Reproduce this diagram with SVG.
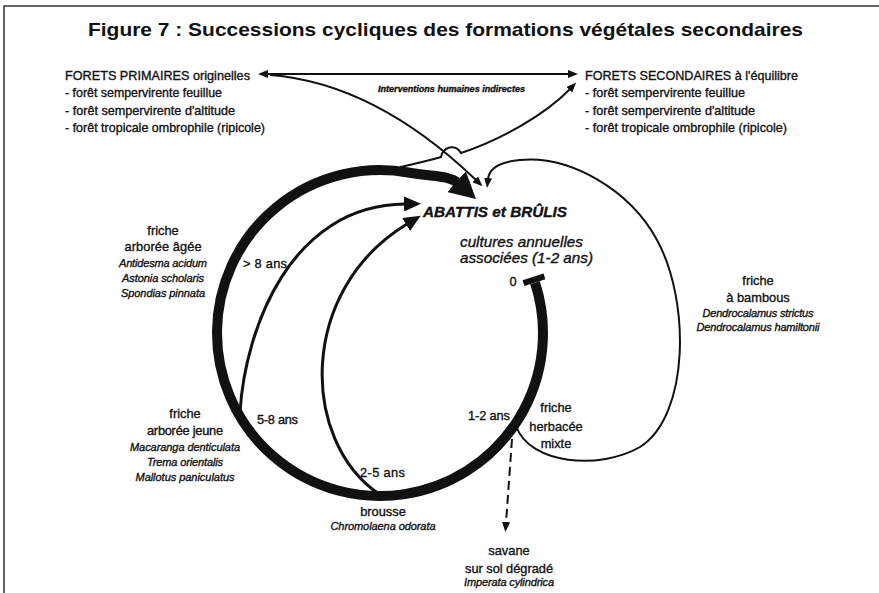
<svg xmlns="http://www.w3.org/2000/svg" width="879" height="593" viewBox="0 0 879 593">
<defs>
<style>
text{font-family:"Liberation Sans",Arial,sans-serif;fill:#111;stroke:#111;stroke-width:0.35}
#title{stroke:none}
.t{font-size:12.8px}
.sp{font-size:11px;font-style:italic}
.m{text-anchor:middle}
.frame{fill:none;stroke:#333;stroke-width:1.5}
.thick{fill:none;stroke:#111;stroke-width:10}
.bar{stroke:#111;stroke-width:6}
.inner{fill:none;stroke:#111;stroke-width:3}
.thin{fill:none;stroke:#111;stroke-width:2}
.dash{fill:none;stroke:#111;stroke-width:2;stroke-dasharray:9 5}
</style>
<marker id="big" markerUnits="userSpaceOnUse" markerWidth="26" markerHeight="28" viewBox="0 0 26 28" refX="2" refY="14" orient="auto"><path d="M0,0 L26,14 L0,28 z" fill="#111"/></marker>
<marker id="mid" markerUnits="userSpaceOnUse" markerWidth="17" markerHeight="15" viewBox="0 0 17 15" refX="1" refY="7.5" orient="auto"><path d="M0,0 L17,7.5 L0,15 z" fill="#111"/></marker>
<marker id="small" markerUnits="userSpaceOnUse" markerWidth="10" markerHeight="8" viewBox="0 0 10 8" refX="1" refY="4" orient="auto"><path d="M0,0 L10,4 L0,8 z" fill="#111"/></marker>
<marker id="smallRev" markerUnits="userSpaceOnUse" markerWidth="10" markerHeight="8" viewBox="0 0 10 8" refX="1" refY="4" orient="auto-start-reverse"><path d="M0,0 L10,4 L0,8 z" fill="#111"/></marker>
</defs>
<rect width="879" height="593" fill="#fff"/>
<path class="frame" d="M4,593 L4,6 L879,6"/>
<text id="title" x="88" y="36" font-size="19" font-weight="bold" textLength="715" lengthAdjust="spacingAndGlyphs">Figure 7 : Successions cycliques des formations végétales secondaires</text>

<g id="connectors">
<path class="thick" d="M535,282.6 A163,163 0 1 1 408.3,172.5 C433,177 449,175 458,183" marker-end="url(#big)"/>
<line class="bar" x1="523.5" y1="283.1" x2="544.5" y2="276.3"/>
<path class="inner" d="M240,412 C245,330 290,205 405,204" marker-end="url(#mid)"/>
<path class="inner" d="M379,494 C300,440 298,290 407,224" marker-end="url(#mid)"/>
<path class="thin" d="M267,74 L569,74" marker-start="url(#smallRev)" marker-end="url(#small)"/>
<path class="thin" d="M270,75 C335,80 405,112 476,180" marker-end="url(#small)"/>
<path class="thin" d="M400,167 C418,163 432,160 441,157 C443,147 455,143 461,153 C500,140 545,115 570,89" marker-end="url(#small)"/>
<path class="thin" d="M516,426 C530,465 600,470 640,447 C690,415 690,300 657,240 C630,190 570,155 520,160 C497,162 489,170 488,179" marker-end="url(#small)"/>
<path class="dash" d="M512,439 L506,523" marker-end="url(#small)"/>
</g>

<g id="edge-labels" class="t">
<text x="378" y="91.5" font-size="9" font-weight="bold" font-style="italic" textLength="147" lengthAdjust="spacingAndGlyphs">Interventions humaines indirectes</text>
<text x="243" y="267.5" textLength="44">&gt; 8 ans</text>
<text x="257" y="423.5" textLength="41">5-8 ans</text>
<text x="360" y="476.5" textLength="45">2-5 ans</text>
<text x="468" y="419.5" textLength="42">1-2 ans</text>
</g>

<g id="node-primaires" class="t">
<text x="65" y="79.5" textLength="185" lengthAdjust="spacingAndGlyphs">FORETS PRIMAIRES originelles</text>
<text x="65" y="97" textLength="157" lengthAdjust="spacingAndGlyphs">- forêt sempervirente feuillue</text>
<text x="65" y="114.5" textLength="170" lengthAdjust="spacingAndGlyphs">- forêt sempervirente d'altitude</text>
<text x="65" y="132" textLength="200" lengthAdjust="spacingAndGlyphs">- forêt tropicale ombrophile (ripicole)</text>
</g>

<g id="node-secondaires" class="t">
<text x="585" y="79.5" textLength="213" lengthAdjust="spacingAndGlyphs">FORETS SECONDAIRES à l'équilibre</text>
<text x="585" y="97" textLength="160" lengthAdjust="spacingAndGlyphs">- forêt sempervirente feuillue</text>
<text x="585" y="114.5" textLength="170" lengthAdjust="spacingAndGlyphs">- forêt sempervirente d'altitude</text>
<text x="585" y="132" textLength="202" lengthAdjust="spacingAndGlyphs">- forêt tropicale ombrophile (ripicole)</text>
</g>

<g id="node-abattis">
<text x="423" y="217" font-size="15" font-weight="bold" font-style="italic" textLength="144" lengthAdjust="spacingAndGlyphs">ABATTIS et BRÛLIS</text>
<text x="460" y="247" font-size="15" font-style="italic" textLength="123" lengthAdjust="spacingAndGlyphs">cultures annuelles</text>
<text x="460" y="263" font-size="15" font-style="italic" textLength="133" lengthAdjust="spacingAndGlyphs">associées (1-2 ans)</text>
<text class="t m" x="513" y="285.5">0</text>
</g>

<g id="node-friche-agee" class="m">
<text class="t" x="163" y="234.5">friche</text>
<text class="t" x="163" y="251" textLength="77">arborée âgée</text>
<text class="sp" x="163" y="267" textLength="88">Antidesma acidum</text>
<text class="sp" x="163" y="282" textLength="82">Astonia scholaris</text>
<text class="sp" x="163" y="297" textLength="84">Spondias pinnata</text>
</g>

<g id="node-friche-jeune" class="m">
<text class="t" x="185" y="417.5">friche</text>
<text class="t" x="185" y="435" textLength="76">arborée jeune</text>
<text class="sp" x="185" y="451" textLength="110">Macaranga denticulata</text>
<text class="sp" x="185" y="466" textLength="76">Trema orientalis</text>
<text class="sp" x="185" y="481" textLength="99">Mallotus paniculatus</text>
</g>

<g id="node-brousse" class="m">
<text class="t" x="383" y="515.5">brousse</text>
<text class="sp" x="383" y="530" textLength="105">Chromolaena odorata</text>
</g>

<g id="node-savane" class="m">
<text class="t" x="509" y="554.5">savane</text>
<text class="t" x="509" y="572.5" textLength="88">sur sol dégradé</text>
<text class="sp" x="509" y="586" textLength="90">Imperata cylindrica</text>
</g>

<g id="node-herbacee" class="m t">
<text x="556" y="411.5">friche</text>
<text x="556" y="430.5">herbacée</text>
<text x="556" y="447.5">mixte</text>
</g>

<g id="node-bambous" class="m">
<text class="t" x="758" y="284.5">friche</text>
<text class="t" x="758" y="301.5">à bambous</text>
<text class="sp" x="758" y="317" textLength="111">Dendrocalamus strictus</text>
<text class="sp" x="758" y="331" textLength="123">Dendrocalamus hamiltonii</text>
</g>
</svg>
